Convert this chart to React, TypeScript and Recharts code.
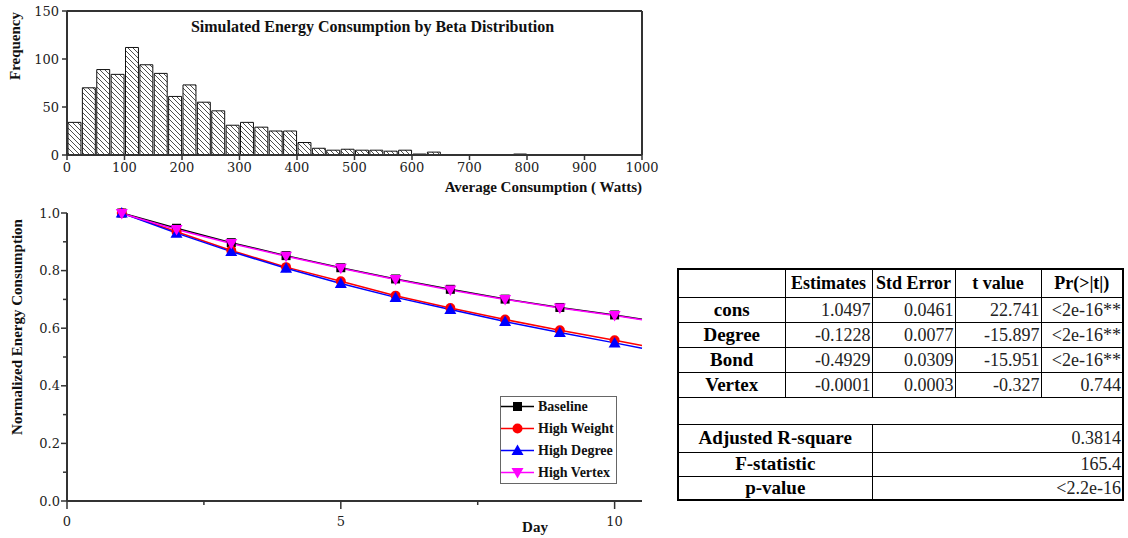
import React from "react";
import {
  BarChart,
  Bar,
  LineChart,
  Line,
  XAxis,
  YAxis,
  ReferenceLine,
  Legend,
} from "recharts";

// histogram: bin starts (Watts, width 25) and counts
const binStarts = [
  0, 25, 50, 75, 100, 125, 150, 175, 200, 225, 250, 275, 300, 325, 350, 375,
  400, 425, 450, 475, 500, 525, 550, 575, 600, 625, 650, 675, 700, 725, 750,
  775, 800, 825, 850, 875, 900, 925, 950, 975,
];
const binCounts = [
  34, 70, 89, 84, 112, 94, 85, 61, 73, 55, 46, 31, 34, 29, 25, 25, 13, 7, 5, 6,
  5, 5, 4, 5, 1, 3, 0, 0, 0, 0, 0, 1, 0, 0, 0, 0, 0, 0, 0, 0,
];
const BIN_WIDTH = 25;
const histTicksX = [0, 100, 200, 300, 400, 500, 600, 700, 800, 900, 1000];
const histTicksY = [0, 50, 100, 150];

// line chart: day vs normalized energy
const days = [1, 2, 3, 4, 5, 6, 7, 8, 9, 10, 10.5];
const baseline = [1.0, 0.947, 0.897, 0.852, 0.81, 0.771, 0.735, 0.701, 0.672, 0.646, 0.631];
const highWeight = [1.0, 0.935, 0.87, 0.812, 0.763, 0.713, 0.67, 0.63, 0.593, 0.558, 0.54];
const highDegree = [1.0, 0.93, 0.866, 0.808, 0.755, 0.707, 0.665, 0.623, 0.585, 0.549, 0.53];
const highVertex = [0.998, 0.943, 0.894, 0.85, 0.808, 0.769, 0.733, 0.7, 0.67, 0.644, 0.629];
const dayTicks = [0, 2.5, 5, 7.5, 10];
const energyTicks = [0, 0.1, 0.2, 0.3, 0.4, 0.5, 0.6, 0.7, 0.8, 0.9, 1.0];

// regression table
const coefHeader = ["", "Estimates", "Std Error", "t value", "Pr(>|t|)"];
const coefRows = [
  ["cons", "1.0497", "0.0461", "22.741", "<2e-16**"],
  ["Degree", "-0.1228", "0.0077", "-15.897", "<2e-16**"],
  ["Bond", "-0.4929", "0.0309", "-15.951", "<2e-16**"],
  ["Vertex", "-0.0001", "0.0003", "-0.327", "0.744"],
];
const fitRows = [
  ["Adjusted R-square", "0.3814"],
  ["F-statistic", "165.4"],
  ["p-value", "<2.2e-16"],
];

const histData = binStarts.map((s, i) => ({ mid: s + BIN_WIDTH / 2, count: binCounts[i] }));
const lineData = days.map((d, i) => ({
  day: d,
  baseline: baseline[i],
  highWeight: highWeight[i],
  highDegree: highDegree[i],
  highVertex: highVertex[i],
}));

const SERIF = "'Liberation Serif', 'Times New Roman', serif";
const NUM_FONT = "'DejaVu Serif', serif";
const AXIS = "#333";

const series = [
  { key: "baseline", name: "Baseline", color: "#000000", shape: "square" },
  { key: "highWeight", name: "High Weight", color: "#ff0000", shape: "circle" },
  { key: "highDegree", name: "High Degree", color: "#0000ff", shape: "up" },
  { key: "highVertex", name: "High Vertex", color: "#ff00ff", shape: "down" },
];

function Marker({ cx, cy, shape, color }: any) {
  if (shape === "square")
    return <rect x={cx - 4.5} y={cy - 4.5} width={9} height={9} fill={color} />;
  if (shape === "circle") return <circle cx={cx} cy={cy} r={5} fill={color} />;
  if (shape === "up")
    return <path d={`M${cx},${cy - 6}L${cx + 6},${cy + 4.5}L${cx - 6},${cy + 4.5}Z`} fill={color} />;
  return <path d={`M${cx},${cy + 6}L${cx + 6},${cy - 4.5}L${cx - 6},${cy - 4.5}Z`} fill={color} />;
}

function makeDot(shape: string, color: string) {
  return (props: any) => {
    const { cx, cy, payload, index } = props;
    if (payload.day > 10) return <g key={`d-${index}`} />;
    return <Marker key={`d-${index}`} cx={cx} cy={cy} shape={shape} color={color} />;
  };
}

function DayTick({ x, y, payload }: any) {
  const major = payload.value % 5 === 0;
  return (
    <g>
      <line x1={x} x2={x} y1={y} y2={y + (major ? 8 : 4)} stroke={AXIS} strokeWidth={1.5} />
      {major && (
        <text x={x} y={y + 20} textAnchor="middle" dy="0.35em" fontFamily={NUM_FONT} fontSize={13} fill="#222">
          {payload.value}
        </text>
      )}
    </g>
  );
}

function EnergyTick({ x, y, payload }: any) {
  const major = Math.round(payload.value * 10) % 2 === 0;
  return (
    <g>
      <line x1={x} x2={x - (major ? 6 : 4)} y1={y} y2={y} stroke={AXIS} strokeWidth={1.5} />
      {major && (
        <text x={x - 7} y={y} textAnchor="end" dy="0.35em" fontFamily={NUM_FONT} fontSize={13} fill="#222">
          {payload.value.toFixed(1)}
        </text>
      )}
    </g>
  );
}

function LegendBox() {
  return (
    <div style={{ width: 115, height: 86, border: "1.5px solid #666", background: "#fff" }}>
      <svg width={115} height={86}>
        {series.map((s, i) => {
          const y = 9.5 + i * 22;
          return (
            <g key={s.key}>
              <line x1={0} x2={33} y1={y} y2={y} stroke={s.color} strokeWidth={1.5} />
              <Marker cx={16.5} cy={y} shape={s.shape} color={s.color} />
              <text x={37} y={y} dy="0.35em" fontFamily={SERIF} fontWeight="bold" fontSize={14} fill="#111">
                {s.name}
              </text>
            </g>
          );
        })}
      </svg>
    </div>
  );
}

const cellBase: React.CSSProperties = {
  border: "1px solid #000",
  padding: "0 1px",
  fontFamily: SERIF,
  lineHeight: "22px",
};

function StatsTable() {
  const colW = [107, 87, 83, 86, 82];
  return (
    <table
      style={{
        position: "absolute",
        left: 677,
        top: 268,
        width: 445,
        borderCollapse: "collapse",
        border: "2px solid #000",
        tableLayout: "fixed",
      }}
    >
      <colgroup>
        {colW.map((w, i) => (
          <col key={i} style={{ width: w }} />
        ))}
      </colgroup>
      <tbody>
        <tr style={{ height: 28 }}>
          {coefHeader.map((h, i) => (
            <td key={i} style={{ ...cellBase, fontWeight: "bold", fontSize: 18, textAlign: "center", whiteSpace: "nowrap" }}>
              {h}
            </td>
          ))}
        </tr>
        {coefRows.map((r) => (
          <tr key={r[0]} style={{ height: 25 }}>
            {r.map((c, i) => (
              <td
                key={i}
                style={{
                  ...cellBase,
                  fontWeight: i === 0 ? "bold" : "normal",
                  fontSize: i === 0 ? 19 : 18,
                  textAlign: i === 0 ? "center" : "right",
                  color: i === 0 ? "#000" : "#222",
                  whiteSpace: "nowrap",
                }}
              >
                {c}
              </td>
            ))}
          </tr>
        ))}
        <tr style={{ height: 27 }}>
          <td colSpan={5} style={cellBase}></td>
        </tr>
        {fitRows.map((r, k) => (
          <tr key={r[0]} style={{ height: k === 0 ? 28 : 24 }}>
            <td colSpan={2} style={{ ...cellBase, fontWeight: "bold", fontSize: 19, textAlign: "center" }}>
              {r[0]}
            </td>
            <td colSpan={3} style={{ ...cellBase, fontSize: 18, textAlign: "right", color: "#222" }}>
              {r[1]}
            </td>
          </tr>
        ))}
      </tbody>
    </table>
  );
}

export default function App() {
  return (
    <div style={{ position: "absolute", left: 0, top: 0, width: 1128, height: 538, background: "#fff", overflow: "hidden" }}>
      <div style={{ position: "absolute", left: 0, top: 0 }}>
        <BarChart
          width={660}
          height={200}
          data={histData}
          margin={{ top: 11, right: 18, left: 0, bottom: 3 }}
          barCategoryGap={0}
          barGap={0}
        >
          <defs>
            <pattern id="hatch" patternUnits="userSpaceOnUse" width={5} height={5}>
              <rect width={5} height={5} fill="#fff" />
              <path d="M0,0L5,5M-1,4L1,6M4,-1L6,1" stroke="#222" strokeWidth={0.8} />
            </pattern>
          </defs>
          <XAxis
            dataKey="mid"
            type="number"
            domain={[0, 1000]}
            ticks={histTicksX}
            interval={0}
            height={42}
            tickSize={5}
            tickMargin={3}
            axisLine={{ stroke: AXIS, strokeWidth: 2 }}
            tickLine={{ stroke: AXIS, strokeWidth: 1.5 }}
            tick={{ fontFamily: NUM_FONT, fontSize: 13, fill: "#222" }}
            label={{
              content: () => (
                <text x={642} y={192} textAnchor="end" fontFamily={SERIF} fontWeight="bold" fontSize={15} fill="#111">
                  Average Consumption ( Watts)
                </text>
              ),
            }}
          />
          <YAxis
            type="number"
            domain={[0, 150]}
            ticks={histTicksY}
            width={67}
            tickSize={5}
            tickMargin={3}
            axisLine={{ stroke: AXIS, strokeWidth: 2 }}
            tickLine={{ stroke: AXIS, strokeWidth: 1.5 }}
            tick={{ fontFamily: NUM_FONT, fontSize: 13, fill: "#222" }}
            label={{
              content: () => (
                <text
                  x={20}
                  y={46}
                  transform="rotate(-90 20 46)"
                  textAnchor="middle"
                  fontFamily={SERIF}
                  fontWeight="bold"
                  fontSize={15}
                  fill="#111"
                >
                  Frequency
                </text>
              ),
            }}
          />
          <ReferenceLine y={150} stroke={AXIS} strokeWidth={2} />
          <ReferenceLine x={1000} stroke={AXIS} strokeWidth={2} />
          <Bar dataKey="count" fill="url(#hatch)" stroke="#111" strokeWidth={1} barSize={14.375} isAnimationActive={false} />
        </BarChart>
      </div>
      <div
        style={{
          position: "absolute",
          left: 170,
          top: 18,
          width: 405,
          textAlign: "center",
          fontFamily: SERIF,
          fontWeight: "bold",
          fontSize: 16,
          color: "#111",
          whiteSpace: "nowrap",
        }}
      >
        Simulated Energy Consumption by Beta Distribution
      </div>

      <div style={{ position: "absolute", left: 0, top: 195 }}>
        <LineChart width={660} height={343} data={lineData} margin={{ top: 18, right: 18, left: 0, bottom: 0 }}>
          <XAxis
            dataKey="day"
            type="number"
            domain={[0, 10.5]}
            ticks={dayTicks}
            interval={0}
            height={37}
            tickSize={0}
            tickMargin={0}
            axisLine={{ stroke: AXIS, strokeWidth: 2 }}
            tick={<DayTick />}
            label={{
              content: () => (
                <text x={535} y={332} textAnchor="middle" dy="0.35em" fontFamily={SERIF} fontWeight="bold" fontSize={15} fill="#111">
                  Day
                </text>
              ),
            }}
          />
          <YAxis
            type="number"
            domain={[0, 1]}
            ticks={energyTicks}
            interval={0}
            width={67}
            tickSize={0}
            tickMargin={0}
            axisLine={{ stroke: AXIS, strokeWidth: 2 }}
            tick={<EnergyTick />}
            label={{
              content: () => (
                <text
                  x={17}
                  y={132}
                  transform="rotate(-90 17 132)"
                  textAnchor="middle"
                  dy="0.35em"
                  fontFamily={SERIF}
                  fontWeight="bold"
                  fontSize={15}
                  fill="#111"
                >
                  Normalized Energy Consumption
                </text>
              ),
            }}
          />
          {series.map((s) => (
            <Line
              key={s.key}
              dataKey={s.key}
              name={s.name}
              type="linear"
              stroke={s.color}
              strokeWidth={1.5}
              dot={makeDot(s.shape, s.color)}
              activeDot={false}
              isAnimationActive={false}
            />
          ))}
          <Legend
            layout="vertical"
            align="center"
            verticalAlign="middle"
            wrapperStyle={{ left: 500, top: 201, width: 118, height: 89 }}
            content={() => <LegendBox />}
          />
        </LineChart>
      </div>

      <StatsTable />
    </div>
  );
}
